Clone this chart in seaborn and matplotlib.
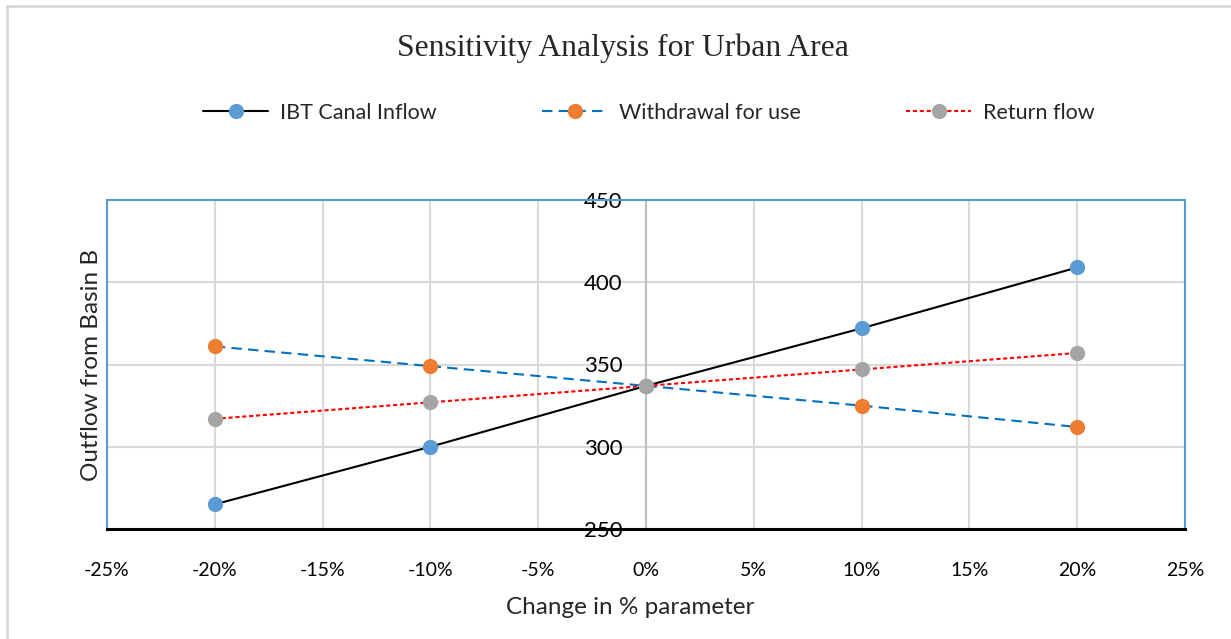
import matplotlib
matplotlib.use("Agg")
import matplotlib.pyplot as plt
import matplotlib.ticker as mticker
from matplotlib.patches import Rectangle
from matplotlib.lines import Line2D
import seaborn as sns
import pandas as pd

# Sensitivity of basin outflow to a +/- change in each parameter
changes = [-0.20, -0.10, 0.0, 0.10, 0.20]
ibt_canal_inflow = [265, 300, 337, 372, 409]
withdrawal_for_use = [361, 349, 337, 325, 312]
return_flow = [317, 327, 337, 347, 357]

series_names = ["IBT Canal Inflow", "Withdrawal for use", "Return flow"]
x_ticks = [-0.25, -0.20, -0.15, -0.10, -0.05, 0.0, 0.05, 0.10, 0.15, 0.20, 0.25]
y_ticks = [250, 300, 350, 400, 450]

sns.set_theme(style="white")
plt.rcParams["font.family"] = ["Lato", "DejaVu Sans"]

W, H = 1231, 639
fig = plt.figure(figsize=(W / 100, H / 100), dpi=100)
ax = fig.add_axes([107 / W, 1 - 529 / H, (1185 - 107) / W, (529 - 200) / H])

df = pd.DataFrame({
    "change": changes,
    series_names[0]: ibt_canal_inflow,
    series_names[1]: withdrawal_for_use,
    series_names[2]: return_flow,
})

styles = [
    dict(color="black", linestyle="-", mfc="#5b9bd5"),
    dict(color="#0070c0", linestyle=(0, (5, 3)), mfc="#ed7d31"),
    dict(color="#ff0000", linestyle=(0, (2, 1.3)), mfc="#a5a5a5"),
]

for name, st in zip(series_names, styles):
    sns.lineplot(data=df, x="change", y=name, ax=ax, color=st["color"],
                 linestyle=st["linestyle"], linewidth=1.5, marker="o",
                 markersize=11, markerfacecolor=st["mfc"],
                 markeredgecolor=st["mfc"], markeredgewidth=0,
                 label=name, legend=False, zorder=5)

ax.set_xlim(-0.25, 0.25)
ax.set_ylim(250, 450)
ax.set_xticks(x_ticks)
ax.set_yticks(y_ticks)
ax.xaxis.set_major_formatter(mticker.FuncFormatter(lambda v, p: f"{round(v * 100):d}%"))

ax.grid(True, color="#d9d9d9", linewidth=1.5)
ax.set_axisbelow(True)

# value axis crosses at 0%
ax.spines["left"].set_position(("data", 0))
ax.spines["left"].set_color("#bfbfbf")
ax.spines["left"].set_linewidth(1.5)
ax.spines["left"].set_zorder(1)
for s in ("top", "right"):
    ax.spines[s].set_color("#5b9bd5")
    ax.spines[s].set_linewidth(1.5)
ax.spines["bottom"].set_color("black")
ax.spines["bottom"].set_linewidth(2.2)
ax.spines["bottom"].set_zorder(6)
ax.add_patch(Rectangle((0, 0), 0, 1, transform=ax.transAxes, fill=False,
                       edgecolor="#5b9bd5", linewidth=1.5, clip_on=False))

ax.tick_params(axis="both", length=0)
ax.tick_params(axis="x", labelsize=14, pad=24, colors="black")
ax.tick_params(axis="y", labelsize=16, pad=17, colors="black")

ax.set_xlabel("Change in % parameter", fontsize=17.5)
ax.set_ylabel("Outflow from Basin B", fontsize=17.5)
ax.xaxis.set_label_coords((630 - 107) / (1185 - 107), -(607 - 529) / (529 - 200), transform=ax.transAxes)
ax.xaxis.label.set_verticalalignment("center")
ax.yaxis.set_label_coords((91 - 107) / (1185 - 107), 0.5, transform=ax.transAxes)
ax.yaxis.label.set_verticalalignment("center")

fig.text(623 / W, 1 - 48 / H, "Sensitivity Analysis for Urban Area",
         family="Liberation Serif", fontsize=22.8, ha="center", va="center")

handles, labels = ax.get_legend_handles_labels()
fig.legend(handles, labels, loc="center", bbox_to_anchor=(649 / W, 1 - 113 / H),
           ncol=3, frameon=False, fontsize=15.5, handlelength=3.0,
           handletextpad=0.56, columnspacing=4.9)

# chart-area outline
fig.add_artist(Line2D([7 / W, 1], [1 - 6 / H, 1 - 6 / H], color="#d9d9d9", linewidth=2))
fig.add_artist(Line2D([7 / W, 7 / W], [0, 1 - 6 / H], color="#d9d9d9", linewidth=2))

fig.savefig("out.png", dpi=100)
